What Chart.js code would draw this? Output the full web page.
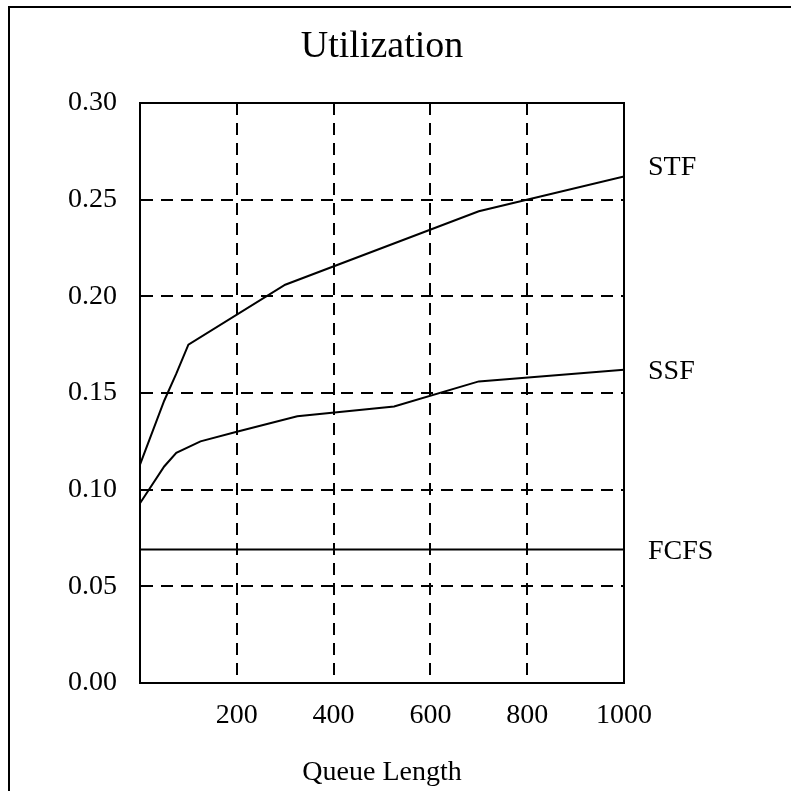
<!DOCTYPE html>
<html>
<head>
<meta charset="utf-8">
<script src="https://cdn.jsdelivr.net/npm/chart.js@4.4.0/dist/chart.umd.min.js"></script>
<style>
  body { margin: 0; background: #fff; }
  canvas { display: block; }
</style>
</head>
<body>
<canvas id="utilChart" width="791" height="791"></canvas>
<script>
// values
const seriesNames = ['STF', 'SSF', 'FCFS'];
const stfQueue = [0, 50, 75, 100, 300, 700, 1000];
const stfUtil = [0.113, 0.146, 0.160, 0.175, 0.206, 0.244, 0.262];
const ssfQueue = [0, 50, 75, 125, 200, 325, 525, 700, 1000];
const ssfUtil = [0.093, 0.112, 0.119, 0.125, 0.130, 0.138, 0.143, 0.156, 0.162];
const fcfsQueue = [0, 1000];
const fcfsUtil = [0.069, 0.069];
const xTicks = [200, 400, 600, 800, 1000];
const yTicks = [0, 0.05, 0.1, 0.15, 0.2, 0.25, 0.3];

const serif = '"Liberation Serif", "DejaVu Serif", serif';

function toPoints(xs, ys) {
  return xs.map((x, i) => ({ x: x, y: ys[i] }));
}

// frame around the page, box around the plot
const framePlugin = {
  id: 'frame',
  beforeDraw(chart) {
    const ctx = chart.ctx;
    ctx.save();
    ctx.strokeStyle = '#000';
    ctx.lineWidth = 2;
    ctx.beginPath();
    ctx.moveTo(9, 791);
    ctx.lineTo(9, 7);
    ctx.lineTo(791, 7);
    ctx.stroke();
    ctx.restore();
  },
  afterDatasetsDraw(chart) {
    const a = chart.chartArea;
    const ctx = chart.ctx;
    ctx.save();
    ctx.strokeStyle = '#000';
    ctx.lineWidth = 2;
    ctx.strokeRect(a.left, a.top, a.right - a.left, a.bottom - a.top);
    ctx.restore();
  },
};

// series names to the right of the line ends
const endLabels = {
  id: 'endLabels',
  afterDraw(chart) {
    const ctx = chart.ctx;
    const yScale = chart.scales.y;
    const offsets = [-9, 2, 2];
    ctx.save();
    ctx.font = '28px ' + serif;
    ctx.fillStyle = '#000';
    ctx.textBaseline = 'middle';
    chart.data.datasets.forEach((ds, i) => {
      const last = ds.data[ds.data.length - 1];
      ctx.fillText(seriesNames[i], chart.chartArea.right + 24, yScale.getPixelForValue(last.y) + offsets[i]);
    });
    ctx.restore();
  },
};

const lineStyle = {
  borderColor: '#000',
  borderWidth: 2,
  pointRadius: 0,
  tension: 0,
  fill: false,
};

new Chart(document.getElementById('utilChart'), {
  type: 'line',
  data: {
    datasets: [
      { label: seriesNames[0], data: toPoints(stfQueue, stfUtil), ...lineStyle },
      { label: seriesNames[1], data: toPoints(ssfQueue, ssfUtil), ...lineStyle },
      { label: seriesNames[2], data: toPoints(fcfsQueue, fcfsUtil), ...lineStyle },
    ],
  },
  options: {
    responsive: false,
    animation: false,
    events: [],
    layout: { padding: { left: 0, right: 167, top: 0, bottom: 0 } },
    plugins: {
      legend: { display: false },
      tooltip: { enabled: false },
      title: {
        display: true,
        fullSize: false,
        text: 'Utilization',
        color: '#000',
        font: { family: serif, size: 38, weight: 'normal' },
        padding: { top: 24, bottom: 33.4 },
      },
    },
    scales: {
      x: {
        type: 'linear',
        min: 0,
        max: 1000,
        afterBuildTicks: (s) => { s.ticks = [0].concat(xTicks).map((v) => ({ value: v })); },
        afterFit: (s) => { s.height = 791 - 683; },
        ticks: {
          color: '#000',
          font: { family: serif, size: 28 },
          padding: 16,
          maxRotation: 0,
          callback: (v) => (v === 0 ? '' : String(v)),
        },
        grid: {
          color: (c) => (c.tick && (c.tick.value === 0 || c.tick.value === 1000) ? 'rgba(0,0,0,0)' : '#000'),
          lineWidth: 2,
          drawTicks: false,
        },
        border: { display: true, color: '#000', width: 2, dash: [12, 8] },
        title: {
          display: true,
          text: 'Queue Length',
          color: '#000',
          font: { family: serif, size: 28 },
          padding: { top: 14, bottom: 2 },
        },
      },
      y: {
        min: 0,
        max: 0.3,
        afterBuildTicks: (s) => { s.ticks = yTicks.map((v) => ({ value: v })); },
        afterFit: (s) => { s.width = 140; },
        ticks: {
          color: '#000',
          font: { family: serif, size: 28 },
          padding: 23,
          callback: (v) => Number(v).toFixed(2),
        },
        grid: {
          color: (c) => (c.tick && (c.tick.value === 0 || c.tick.value === 0.3) ? 'rgba(0,0,0,0)' : '#000'),
          lineWidth: 2,
          drawTicks: false,
        },
        border: { display: true, color: '#000', width: 2, dash: [12, 8] },
      },
    },
  },
  plugins: [framePlugin, endLabels],
});
</script>
</body>
</html>
